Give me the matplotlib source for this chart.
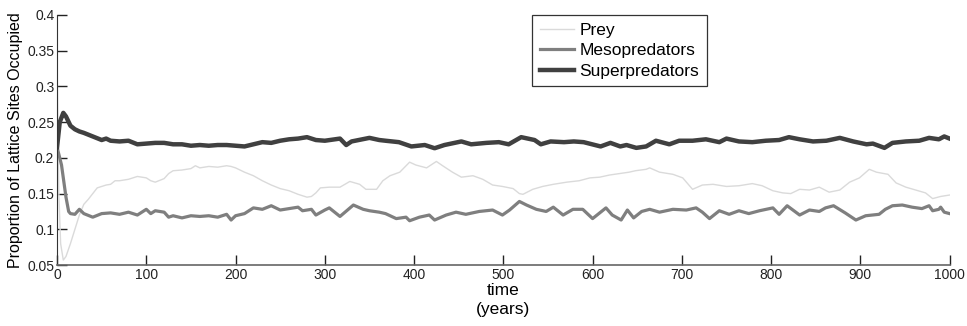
import matplotlib
matplotlib.use("Agg")
import matplotlib.pyplot as plt

plt.rcParams['font.family'] = ['Liberation Sans', 'DejaVu Sans']

# ---- data ----
prey_t = [0, 2, 4, 7, 10, 15, 20, 25, 30, 35, 40, 45, 50, 55, 60, 65, 70, 80, 90, 100, 105, 110, 120, 125, 130,
          140, 150, 155, 160, 170, 180, 190, 195, 200, 210, 220, 230, 240, 250, 260, 270, 280, 285, 290, 295,
          305, 317, 328, 339, 346, 358, 365, 373, 384, 395, 402, 414, 425, 432, 443, 453, 466, 477, 488, 499,
          511, 518, 522, 533, 544, 556, 571, 585, 597, 608, 619, 630, 641, 648, 660, 664, 675, 690, 701, 712,
          723, 735, 750, 764, 779, 790, 802, 813, 822, 832, 843, 854, 865, 877, 888, 899, 910, 918, 931, 940,
          951, 962, 973, 981, 990, 1000]
prey_v = [0.335, 0.15, 0.08, 0.057, 0.062, 0.08, 0.10, 0.12, 0.135, 0.142, 0.150, 0.158, 0.160, 0.162, 0.163,
          0.168, 0.168, 0.170, 0.174, 0.172, 0.168, 0.166, 0.171, 0.178, 0.182, 0.183, 0.185, 0.189, 0.186,
          0.188, 0.187, 0.189, 0.188, 0.186, 0.180, 0.175, 0.168, 0.162, 0.157, 0.154, 0.149, 0.145, 0.146,
          0.151, 0.158, 0.159, 0.159, 0.167, 0.163, 0.156, 0.156, 0.168, 0.175, 0.180, 0.194, 0.190, 0.186,
          0.195, 0.189, 0.180, 0.173, 0.175, 0.170, 0.162, 0.160, 0.157, 0.150, 0.149, 0.156, 0.160, 0.163,
          0.166, 0.168, 0.172, 0.173, 0.176, 0.178, 0.180, 0.182, 0.184, 0.186, 0.180, 0.177, 0.172, 0.156,
          0.162, 0.163, 0.160, 0.161, 0.164, 0.161, 0.154, 0.151, 0.150, 0.156, 0.155, 0.159, 0.152, 0.155,
          0.166, 0.172, 0.184, 0.180, 0.177, 0.165, 0.159, 0.155, 0.151, 0.143, 0.146, 0.148]

meso_t = [0, 5, 10, 13, 15, 20, 25, 30, 40, 50, 60, 70, 80, 90, 100, 105, 110, 120, 125, 130, 140, 150, 160,
          170, 180, 190, 195, 200, 210, 220, 230, 240, 250, 260, 270, 275, 285, 290, 300, 305, 317, 332, 343,
          350, 361, 368, 380, 391, 395, 406, 417, 423, 436, 447, 458, 473, 488, 499, 507, 518, 526, 537, 548,
          556, 567, 578, 589, 600, 615, 622, 632, 639, 646, 655, 664, 675, 690, 705, 716, 723, 731, 742, 753,
          764, 775, 787, 802, 809, 818, 832, 843, 854, 861, 870, 883, 895, 906, 921, 928, 936, 947, 958, 969,
          977, 981, 988, 990, 994, 1000]
meso_v = [0.215, 0.19, 0.145, 0.125, 0.122, 0.121, 0.128, 0.122, 0.117, 0.122, 0.123, 0.121, 0.124, 0.120,
          0.128, 0.122, 0.126, 0.124, 0.117, 0.119, 0.116, 0.119, 0.118, 0.119, 0.117, 0.121, 0.113, 0.119,
          0.122, 0.130, 0.128, 0.133, 0.127, 0.129, 0.131, 0.126, 0.128, 0.120, 0.127, 0.130, 0.118, 0.134,
          0.128, 0.126, 0.124, 0.122, 0.115, 0.117, 0.112, 0.117, 0.120, 0.113, 0.120, 0.124, 0.121, 0.125,
          0.127, 0.120, 0.127, 0.139, 0.134, 0.128, 0.125, 0.131, 0.120, 0.128, 0.128, 0.115, 0.130, 0.120,
          0.113, 0.127, 0.116, 0.125, 0.128, 0.124, 0.128, 0.127, 0.130, 0.124, 0.115, 0.126, 0.121, 0.126,
          0.122, 0.126, 0.130, 0.121, 0.133, 0.120, 0.127, 0.125, 0.130, 0.133, 0.123, 0.113, 0.119, 0.121,
          0.128, 0.133, 0.134, 0.131, 0.129, 0.133, 0.126, 0.128, 0.131, 0.124, 0.122]

sup_t = [0, 3, 7, 10, 15, 20, 25, 30, 40, 50, 55, 60, 70, 80, 90, 100, 110, 120, 130, 140, 150, 160, 170, 180,
         190, 200, 210, 220, 230, 240, 250, 260, 270, 280, 290, 300, 317, 324, 330, 350, 361, 368, 383, 397,
         412, 423, 434, 453, 464, 481, 495, 506, 520, 535, 542, 553, 568, 579, 590, 609, 620, 631, 638, 649,
         660, 671, 686, 697, 712, 727, 742, 750, 764, 779, 794, 809, 820, 832, 847, 862, 877, 892, 907, 914,
         927, 936, 951, 966, 977, 988, 994, 1000]
sup_v = [0.215, 0.250, 0.263, 0.258, 0.245, 0.240, 0.237, 0.235, 0.230, 0.225, 0.227, 0.224, 0.223, 0.224,
         0.219, 0.220, 0.221, 0.221, 0.219, 0.219, 0.217, 0.218, 0.217, 0.218, 0.218, 0.217, 0.216, 0.219,
         0.222, 0.221, 0.224, 0.226, 0.227, 0.229, 0.225, 0.224, 0.227, 0.218, 0.223, 0.228, 0.225, 0.224,
         0.222, 0.216, 0.218, 0.2135, 0.218, 0.223, 0.219, 0.221, 0.222, 0.219, 0.229, 0.225, 0.219, 0.223,
         0.222, 0.223, 0.222, 0.216, 0.221, 0.216, 0.218, 0.214, 0.216, 0.224, 0.219, 0.224, 0.224, 0.226,
         0.222, 0.227, 0.223, 0.222, 0.224, 0.225, 0.229, 0.226, 0.223, 0.224, 0.228, 0.223, 0.219, 0.220,
         0.214, 0.221, 0.223, 0.224, 0.228, 0.226, 0.230, 0.227]

series_names = ["Prey", "Mesopredators", "Superpredators"]
x_ticks = [0, 100, 200, 300, 400, 500, 600, 700, 800, 900, 1000]
y_ticks = [0.05, 0.1, 0.15, 0.2, 0.25, 0.3, 0.35, 0.4]
y_tick_labels = ["0.05", "0.1", "0.15", "0.2", "0.25", "0.3", "0.35", "0.4"]

fig = plt.figure(figsize=(9.67, 3.26), dpi=100)
ax = fig.add_axes([0.059, 0.187, 0.923, 0.767])

ax.plot(prey_t, prey_v, color="#dadada", lw=1.0, label=series_names[0])
ax.plot(meso_t, meso_v, color="#7f7f7f", lw=2.3, label=series_names[1])
ax.plot(sup_t, sup_v, color="#404040", lw=3.2, label=series_names[2])

ax.set_xlim(0, 1000)
ax.set_ylim(0.05, 0.4)
ax.set_xticks(x_ticks)
ax.set_yticks(y_ticks)
ax.set_yticklabels(y_tick_labels)
ax.tick_params(direction="in", length=7, labelsize=10, width=1, colors="#222222", pad=2)
for s in ["top", "right"]:
    ax.spines[s].set_visible(False)
ax.spines["left"].set_color("#333333")
ax.spines["bottom"].set_color("#666666")
ax.spines["bottom"].set_linewidth(1.2)

ax.set_xlabel("time\n(years)", fontsize=12.5, labelpad=1, linespacing=1.3)
ax.set_ylabel("Proportion of Lattice Sites Occupied", fontsize=11.5, labelpad=3)

leg = ax.legend(loc="upper left", bbox_to_anchor=(0.532, 1.0), fontsize=12.5, frameon=True,
                fancybox=False, edgecolor="black", handlelength=2.0, handletextpad=0.3,
                borderpad=0.45, labelspacing=0.3, borderaxespad=0.0)
leg.get_frame().set_linewidth(0.9)

fig.savefig("out.png", dpi=100)
